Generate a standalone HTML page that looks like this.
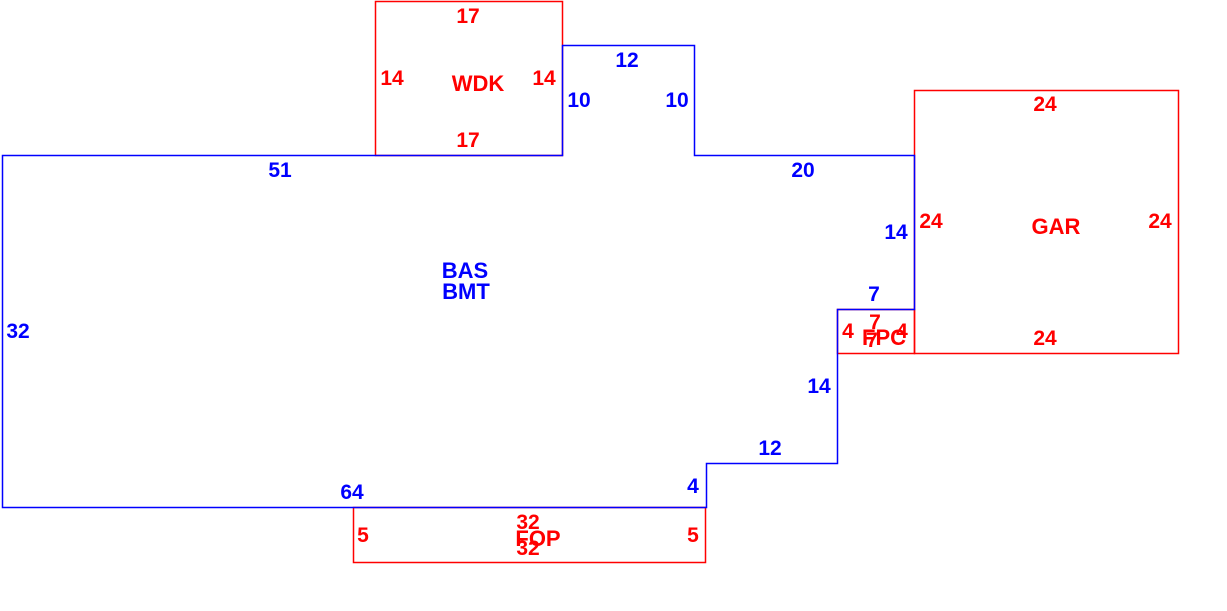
<!DOCTYPE html>
<html><head><meta charset="utf-8"><style>
html,body{margin:0;padding:0;background:#fff;}
svg{display:block;}
text{font-family:"Liberation Sans",Arial,sans-serif;font-weight:bold;font-size:21px;text-anchor:middle;}
.b{fill:#0000ff;} .r{fill:#ff0000;}
.w{font-size:22px;}
</style></head><body>
<svg width="1227" height="611" viewBox="0 0 1227 611" xmlns="http://www.w3.org/2000/svg">
<g fill="none" stroke-width="1.5">
<rect x="375.5" y="1.5" width="187" height="154" stroke="#ff0000"/>
<rect x="914.5" y="90.5" width="264" height="263" stroke="#ff0000"/>
<rect x="837.5" y="309.5" width="77" height="44" stroke="#ff0000"/>
<rect x="353.5" y="507.5" width="352" height="55" stroke="#ff0000"/>
<polygon stroke="#0000ff" points="2.5,155.5 562.5,155.5 562.5,45.5 694.5,45.5 694.5,155.5 914.5,155.5 914.5,309.5 837.5,309.5 837.5,463.5 706.5,463.5 706.5,507.5 2.5,507.5"/>
</g>
<g class="r">
<text x="468" y="23">17</text>
<text x="392" y="85">14</text>
<text class="w" x="478" y="91">WDK</text>
<text x="544" y="85">14</text>
<text x="468" y="147">17</text>
<text x="1045" y="111">24</text>
<text x="931" y="228">24</text>
<text class="w" x="1056" y="234">GAR</text>
<text x="1160" y="228">24</text>
<text x="1045" y="345">24</text>
<text x="848" y="338">4</text>
<text x="875" y="329">7</text>
<text class="w" x="884" y="345">FPC</text>
<text x="872" y="347">7</text>
<text x="902" y="338">4</text>
<text x="363" y="542">5</text>
<text x="528" y="529">32</text>
<text class="w" x="538" y="546">FOP</text>
<text x="528" y="555">32</text>
<text x="693" y="542">5</text>
</g>
<g class="b">
<text x="627" y="67">12</text>
<text x="579" y="107">10</text>
<text x="677" y="107">10</text>
<text x="280" y="177">51</text>
<text x="803" y="177">20</text>
<text class="w" x="465" y="278">BAS</text>
<text class="w" x="466" y="299">BMT</text>
<text x="18" y="338">32</text>
<text x="896" y="239">14</text>
<text x="874" y="301">7</text>
<text x="819" y="393">14</text>
<text x="770" y="455">12</text>
<text x="352" y="499">64</text>
<text x="693" y="493">4</text>
</g>
</svg>
</body></html>
